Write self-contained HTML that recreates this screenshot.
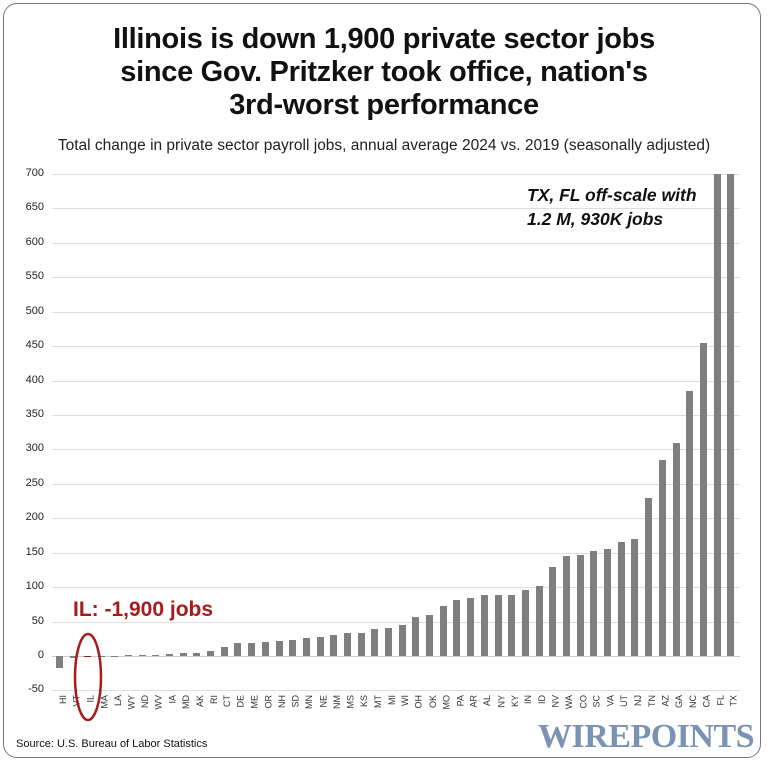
<!DOCTYPE html>
<html><head><meta charset="utf-8"><style>
body{margin:0;background:#fff;}
#c{position:relative;width:768px;height:765px;overflow:hidden;font-family:"Liberation Sans",sans-serif;}
.frame{position:absolute;left:3px;top:3px;width:758px;height:755px;border:1.5px solid #777;border-radius:14px;box-sizing:border-box;}
.t{position:absolute;left:0;width:768px;text-align:center;font-weight:bold;font-size:29px;color:#111;letter-spacing:-0.3px}
.g{position:absolute;left:52px;width:688px;height:1px;background:#ddd}
.yl{position:absolute;left:0;width:44px;text-align:right;font-size:11px;color:#222}
.row{position:absolute;left:53.2px;width:684.5px;display:grid;grid-template-columns:repeat(50,1fr)}
.row div{position:relative}
.row div i{position:absolute;left:3.3px;width:7px;background:#7f7f7f}
.pos{top:174px;height:482px}.pos i{bottom:0}
.neg{top:656px;height:40px}.neg i{top:0}
.lab{top:695px;height:40px}
.lab span{position:absolute;top:0;transform-origin:right top;transform:rotate(-90deg) translate(0,-2px);font-size:9px;color:#333;white-space:nowrap}
.lab div span{right:50%}
</style></head><body><div id="c">
<div class="frame"></div>
<div class="t" style="top:23px">Illinois is down 1,900 private sector jobs</div>
<div class="t" style="top:56px">since Gov. Pritzker took office, nation's</div>
<div class="t" style="top:89px">3rd-worst performance</div>
<div style="position:absolute;left:0;width:768px;top:137px;text-align:center;font-size:15.5px;color:#222">Total change in private sector payroll jobs, annual average 2024 vs. 2019 (seasonally adjusted)</div>

<div class="g" style="top:174px"></div><div class="g" style="top:208px"></div><div class="g" style="top:243px"></div><div class="g" style="top:277px"></div><div class="g" style="top:312px"></div><div class="g" style="top:346px"></div><div class="g" style="top:381px"></div><div class="g" style="top:415px"></div><div class="g" style="top:449px"></div><div class="g" style="top:484px"></div><div class="g" style="top:518px"></div><div class="g" style="top:553px"></div><div class="g" style="top:587px"></div><div class="g" style="top:622px"></div><div class="g" style="top:656px;background:#ccc"></div><div class="g" style="top:690px"></div>

<div class="yl" style="top:167px">700</div><div class="yl" style="top:201px">650</div><div class="yl" style="top:236px">600</div><div class="yl" style="top:270px">550</div><div class="yl" style="top:305px">500</div><div class="yl" style="top:339px">450</div><div class="yl" style="top:374px">400</div><div class="yl" style="top:408px">350</div><div class="yl" style="top:442px">300</div><div class="yl" style="top:477px">250</div><div class="yl" style="top:511px">200</div><div class="yl" style="top:546px">150</div><div class="yl" style="top:580px">100</div><div class="yl" style="top:615px">50</div><div class="yl" style="top:649px">0</div><div class="yl" style="top:683px">-50</div>

<div class="row pos">
<div></div><div></div><div></div><div></div><div></div>
<div><i style="height:0.7px"></i></div><div><i style="height:1.4px"></i></div><div><i style="height:1.4px"></i></div><div><i style="height:2.1px"></i></div><div><i style="height:2.8px"></i></div>
<div><i style="height:2.8px"></i></div><div><i style="height:4.8px"></i></div><div><i style="height:9px"></i></div><div><i style="height:13.1px"></i></div><div><i style="height:13.1px"></i></div>
<div><i style="height:14.5px"></i></div><div><i style="height:15.1px"></i></div><div><i style="height:16.5px"></i></div><div><i style="height:17.9px"></i></div><div><i style="height:18.6px"></i></div>
<div><i style="height:20.7px"></i></div><div><i style="height:23.4px"></i></div><div><i style="height:23.4px"></i></div><div><i style="height:26.9px"></i></div><div><i style="height:28.2px"></i></div>
<div><i style="height:31px"></i></div><div><i style="height:38.6px"></i></div><div><i style="height:40.6px"></i></div><div><i style="height:49.6px"></i></div><div><i style="height:56.5px"></i></div>
<div><i style="height:57.8px"></i></div><div><i style="height:60.6px"></i></div><div><i style="height:61.3px"></i></div><div><i style="height:61.3px"></i></div><div><i style="height:66.1px"></i></div>
<div><i style="height:70.2px"></i></div><div><i style="height:89.5px"></i></div><div><i style="height:99.8px"></i></div><div><i style="height:101.2px"></i></div><div><i style="height:104.7px"></i></div>
<div><i style="height:107.4px"></i></div><div><i style="height:114.3px"></i></div><div><i style="height:117.1px"></i></div><div><i style="height:157.7px"></i></div><div><i style="height:196.3px"></i></div>
<div><i style="height:213.5px"></i></div><div><i style="height:265.1px"></i></div><div><i style="height:313.3px"></i></div><div><i style="height:482px"></i></div><div><i style="height:482px"></i></div>
</div>
<div class="row neg">
<div><i style="height:12.4px"></i></div><div><i style="height:2px"></i></div><div><i style="height:1.4px;background:#8b2a2a"></i></div><div><i style="height:0.8px"></i></div><div><i style="height:0.8px"></i></div>
</div>
<div class="row lab">
<div><span>HI</span></div><div><span>VT</span></div><div><span>IL</span></div><div><span>MA</span></div><div><span>LA</span></div><div><span>WY</span></div><div><span>ND</span></div><div><span>WV</span></div><div><span>IA</span></div><div><span>MD</span></div>
<div><span>AK</span></div><div><span>RI</span></div><div><span>CT</span></div><div><span>DE</span></div><div><span>ME</span></div><div><span>OR</span></div><div><span>NH</span></div><div><span>SD</span></div><div><span>MN</span></div><div><span>NE</span></div>
<div><span>NM</span></div><div><span>MS</span></div><div><span>KS</span></div><div><span>MT</span></div><div><span>MI</span></div><div><span>WI</span></div><div><span>OH</span></div><div><span>OK</span></div><div><span>MO</span></div><div><span>PA</span></div>
<div><span>AR</span></div><div><span>AL</span></div><div><span>NY</span></div><div><span>KY</span></div><div><span>IN</span></div><div><span>ID</span></div><div><span>NV</span></div><div><span>WA</span></div><div><span>CO</span></div><div><span>SC</span></div>
<div><span>VA</span></div><div><span>UT</span></div><div><span>NJ</span></div><div><span>TN</span></div><div><span>AZ</span></div><div><span>GA</span></div><div><span>NC</span></div><div><span>CA</span></div><div><span>FL</span></div><div><span>TX</span></div>
</div>

<div style="position:absolute;left:527px;top:183px;font-size:17.5px;font-style:italic;font-weight:bold;color:#111;line-height:24px">TX, FL off-scale with<br>1.2 M, 930K jobs</div>
<div style="position:absolute;left:73px;top:598px;font-size:21px;font-weight:bold;color:#a51c1c">IL: -1,900 jobs</div>
<svg style="position:absolute;left:0;top:0" width="768" height="765"><ellipse cx="88" cy="677" rx="13" ry="43" fill="none" stroke="#a51c1c" stroke-width="2.5"/></svg>
<div style="position:absolute;left:16px;top:738px;font-size:11px;color:#111">Source: U.S. Bureau of Labor Statistics</div>
<div style="position:absolute;left:538px;top:718px;font-family:'Liberation Serif',serif;font-weight:bold;font-size:34px;color:#7a92b4;letter-spacing:-0.5px">WIREPOINTS</div>
</div></body></html>
